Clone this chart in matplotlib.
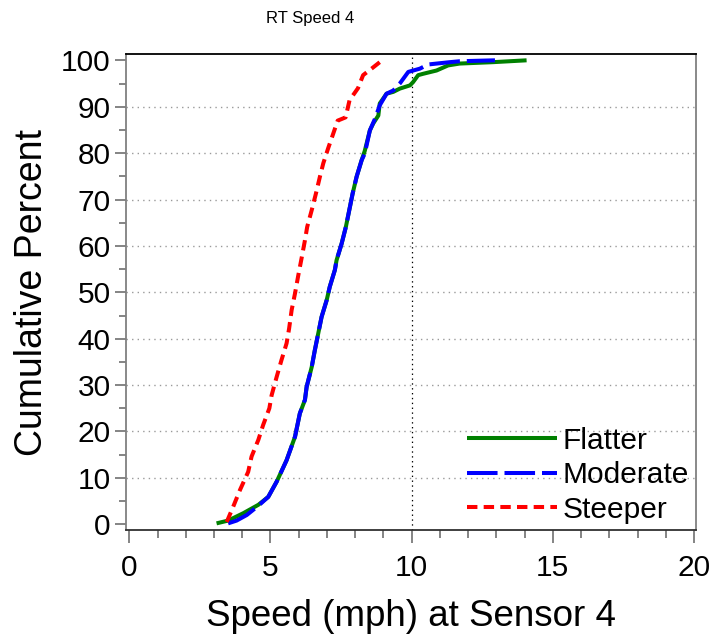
import matplotlib
matplotlib.use("Agg")
import matplotlib.pyplot as plt
from matplotlib.ticker import MultipleLocator

plt.rcParams['font.family'] = ['Liberation Sans', 'DejaVu Sans']
plt.rcParams['lines.scale_dashes'] = False

# Cumulative distributions of speed at sensor 4, by grade group
flatter_speed = [3.09, 3.50, 4.04, 4.57, 4.92, 5.22, 5.57, 5.87, 6.04, 6.22, 6.28, 6.46,
                 6.57, 6.69, 6.81, 6.99, 7.10, 7.28, 7.34, 7.52, 7.67, 7.79, 7.91, 8.05,
                 8.23, 8.34, 8.52, 8.64, 8.82, 8.87, 9.11, 9.35, 9.58, 9.94, 10.05, 10.23,
                 10.41, 10.88, 11.29, 11.70, 12.88, 14.07]
flatter_pct = [0.2, 0.8, 2.4, 4.2, 5.9, 9.2, 13.8, 18.9, 23.9, 26.8, 29.6, 33.9,
               37.5, 41.1, 44.7, 48.3, 51.2, 54.8, 56.9, 60.5, 64.1, 67.7, 71.3, 74.9,
               78.5, 80.5, 84.9, 86.4, 88.1, 90.7, 92.8, 93.2, 93.9, 94.6, 95.3, 96.8,
               97.1, 97.8, 98.9, 99.3, 99.6, 100.0]

moderate_speed = [3.50, 3.80, 4.16, 4.57, 4.92, 5.22, 5.57, 5.87, 6.04, 6.22, 6.28, 6.46,
                  6.57, 6.69, 6.81, 6.99, 7.10, 7.28, 7.34, 7.52, 7.67, 7.79, 7.91, 8.05,
                  8.23, 8.34, 8.52, 8.70, 8.87, 9.11, 9.35, 9.58, 9.88, 10.29, 10.58,
                  11.35, 11.70, 12.95]
moderate_pct = [0.2, 0.8, 2.0, 4.0, 5.9, 9.2, 13.8, 18.9, 23.9, 26.8, 29.6, 33.9,
                37.5, 41.1, 44.7, 48.3, 51.2, 54.8, 56.9, 60.5, 64.1, 67.7, 71.3, 74.9,
                78.5, 79.9, 84.9, 87.4, 90.3, 92.8, 93.5, 95.0, 97.5, 98.2, 99.1,
                99.6, 99.8, 100.0]

steeper_speed = [3.45, 3.68, 3.92, 4.21, 4.33, 4.57, 4.74, 4.96, 5.04, 5.22, 5.39, 5.57,
                 5.66, 5.75, 5.87, 5.98, 6.10, 6.22, 6.30, 6.46, 6.61, 6.75, 6.87, 7.04,
                 7.20, 7.38, 7.66, 7.80, 8.10, 8.28, 8.60, 8.87]
steeper_pct = [0.5, 3.8, 7.4, 11.3, 14.6, 18.2, 21.4, 25.0, 27.8, 31.8, 35.4, 39.0,
               42.2, 46.2, 49.8, 53.5, 57.3, 61.2, 64.1, 67.7, 71.3, 74.9, 77.8, 81.0,
               83.8, 87.0, 87.7, 91.4, 94.0, 96.8, 98.3, 99.6]

series_names = ["Flatter", "Moderate", "Steeper"]
x_ticks = [0, 5, 10, 15, 20]
y_ticks = [0, 10, 20, 30, 40, 50, 60, 70, 80, 90, 100]

fig = plt.figure(figsize=(7.2, 6.35), dpi=100)
ax = fig.add_axes([126 / 720, 1 - 530 / 635, 570 / 720, 476 / 635])

ax.set_xlim(-0.117, 20.07)
ax.set_ylim(-1.23, 101.36)

# reference grid
for yv in y_ticks[1:-1]:
    ax.axhline(yv, color='#9a9a9a', lw=1.0, ls=(0, (1, 3)), zorder=1)
ax.axvline(10, color='black', lw=0.9, ls=(0, (1, 2.5)), zorder=1)

lw = 2.9
ax.plot(flatter_speed, flatter_pct, color='#008000', lw=lw, solid_capstyle='butt',
        label=series_names[0], zorder=3)
ax.plot(moderate_speed, moderate_pct, color='#0000ff', lw=lw, dashes=(22, 5),
        dash_capstyle='butt', label=series_names[1], zorder=4)
ax.plot(steeper_speed, steeper_pct, color='#ff0000', lw=lw, dashes=(7.5, 4.5),
        dash_capstyle='butt', label=series_names[2], zorder=5)

ax.xaxis.set_major_locator(plt.FixedLocator(x_ticks))
ax.xaxis.set_minor_locator(MultipleLocator(1))
ax.yaxis.set_major_locator(plt.FixedLocator(y_ticks))
ax.yaxis.set_minor_locator(MultipleLocator(5))

ax.tick_params(axis='both', which='major', direction='out', color='#707070',
               width=1.2, labelsize=21.5, labelcolor='black')
ax.tick_params(axis='x', which='major', length=9.5, pad=8)
ax.tick_params(axis='y', which='major', length=8, pad=3)
ax.tick_params(axis='x', which='minor', direction='out', length=6, color='#707070', width=1.2)
ax.tick_params(axis='y', which='minor', direction='out', length=5, color='#707070', width=1.2)

ax.spines['top'].set_color('black')
ax.spines['right'].set_color('#808080')
ax.spines['left'].set_color('#808080')
ax.spines['bottom'].set_color('#303030')
for s in ax.spines.values():
    s.set_linewidth(1.3)

ax.set_xlabel("Speed (mph) at Sensor 4", fontsize=26.5, labelpad=12)
ax.set_ylabel("Cumulative Percent", fontsize=27, labelpad=8)

fig.text(310 / 720, 1 - 18 / 635, "RT Speed 4", fontsize=12, ha='center', va='center')

leg = ax.legend(loc='lower right', frameon=False, fontsize=21.5, handlelength=3.0,
                handletextpad=0.2, labelspacing=0.22, borderaxespad=0.0,
                bbox_to_anchor=(1.009, -0.012))

fig.savefig("out.png", dpi=100)
